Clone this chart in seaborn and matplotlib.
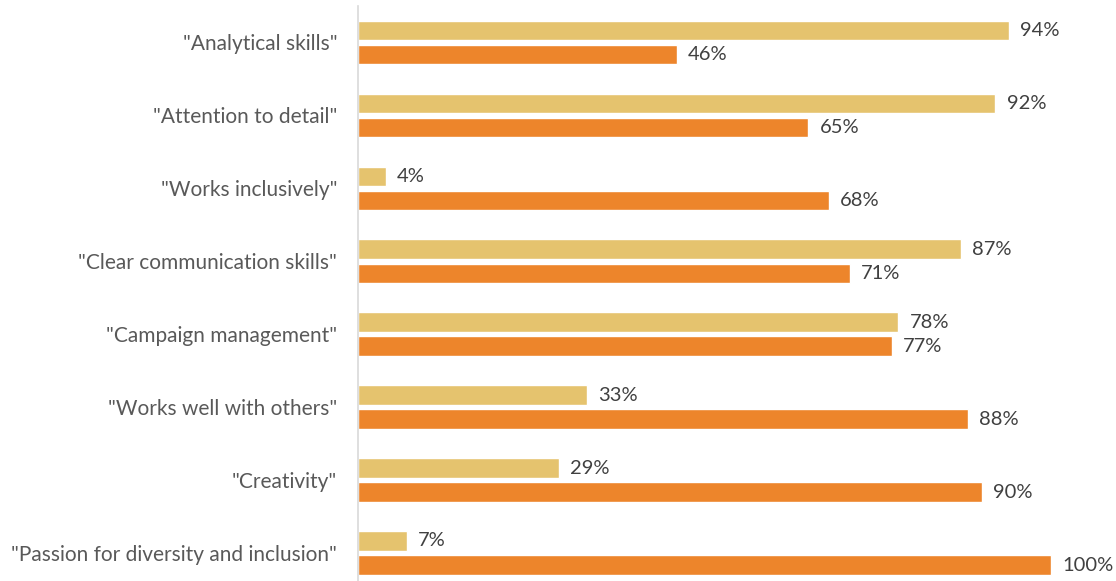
import matplotlib
matplotlib.use("Agg")
import matplotlib.pyplot as plt
import seaborn as sns
import pandas as pd

categories = ['"Analytical skills"', '"Attention to detail"', '"Works inclusively"',
              '"Clear communication skills"', '"Campaign management"',
              '"Works well with others"', '"Creativity"',
              '"Passion for diversity and inclusion"']
series_names = ["Series 1", "Series 2"]
series1 = [94, 92, 4, 87, 78, 33, 29, 7]
series2 = [46, 65, 68, 71, 77, 88, 90, 100]

df = pd.DataFrame({
    "category": categories * 2,
    "series": [series_names[0]] * len(categories) + [series_names[1]] * len(categories),
    "value": series1 + series2,
})

sns.set_style("white")
plt.rcParams["font.family"] = ["Lato", "DejaVu Sans"]

fig = plt.figure(figsize=(11.16, 5.81), dpi=100)
ax = fig.add_axes([358 / 1116, 0, 758 / 1116, 575 / 581])

palette = {series_names[0]: "#E5C36E", series_names[1]: "#ED852B"}
sns.barplot(data=df, y="category", x="value", hue="series", order=categories,
            hue_order=series_names, palette=palette, orient="h",
            width=0.66, gap=0.19, legend=False, ax=ax, saturation=1)

for cont in ax.containers:
    ax.bar_label(cont, labels=[f"{v:.0f}%" for v in cont.datavalues],
                 padding=8, fontsize=14.5, color="#404040")

ax.set_xlim(0, 109.4)
ax.set_ylim(7.384, -0.5)
ax.set_xlabel("")
ax.set_ylabel("")
ax.set_xticks([])
ax.tick_params(axis="y", length=0, pad=15, labelsize=15, labelcolor="#595959")
for s in ["top", "right", "bottom"]:
    ax.spines[s].set_visible(False)
ax.spines["left"].set_color("#D9D9D9")
ax.spines["left"].set_linewidth(1.2)

fig.savefig("out.png", dpi=100)
